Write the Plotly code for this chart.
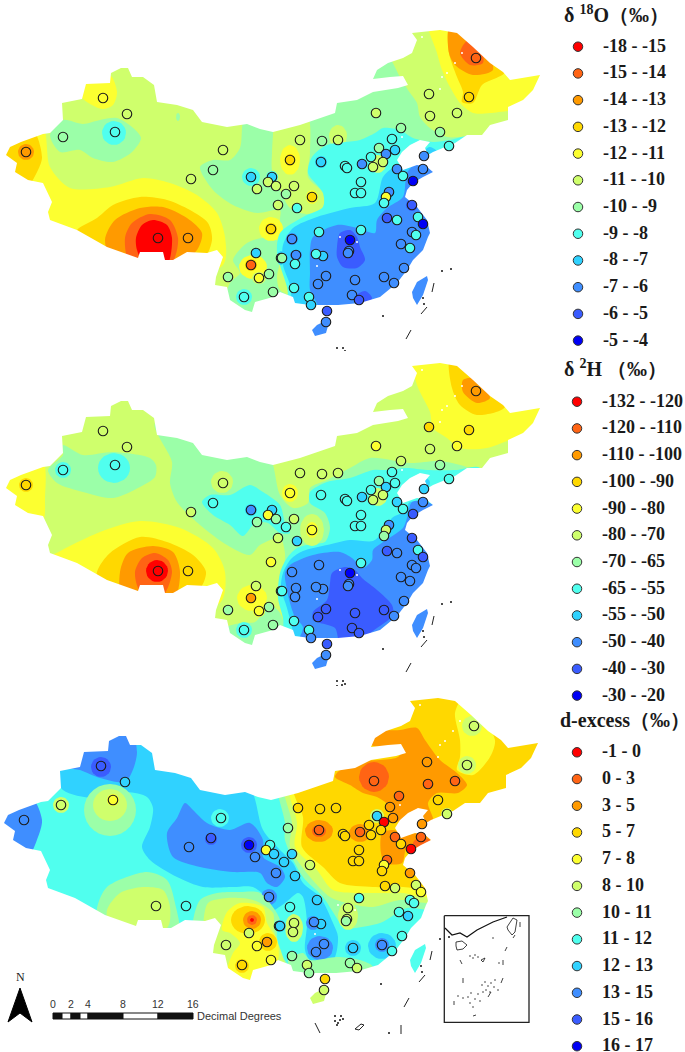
import math
import plotly.graph_objects as go

# ---------- class colours (12 legend classes, high to low) ----------
CLASS_COLORS = ["#FF0000", "#FF6414", "#FF9A00", "#FFD800", "#FCFF30", "#CFFF6C",
                "#9BFFA8", "#50FFEE", "#30D2FF", "#3F8EFF", "#3A5CFF", "#0000F5"]

O18_LABELS = ["-18 - -15", "-15 - -14", "-14 - -13", "-13 - -12", "-12 - -11", "-11 - -10",
              "-10 - -9", "-9 - -8", "-8 - -7", "-7 - -6", "-6 - -5", "-5 - -4"]
H2_LABELS = ["-132 - -120", "-120 - -110", "-110 - -100", "-100 - -90", "-90 - -80", "-80 - -70",
             "-70 - -65", "-65 - -55", "-55 - -50", "-50 - -40", "-40 - -30", "-30 - -20"]
DX_LABELS = ["-1 - 0", "0 - 3", "3 - 5", "5 - 7", "7 - 8", "8 - 10",
             "10 - 11", "11 - 12", "12 - 13", "13 - 15", "15 - 16", "16 - 17"]

# ---------- stations (map position, class in each panel) ----------
STATION_X = [26, 63, 103, 127, 115, 223, 213, 191, 158, 188, 251, 272, 268, 276, 257, 278, 271, 256, 251, 259, 269, 228, 244, 273, 281,
             476, 429, 469, 430, 457, 376, 401, 440, 449, 392, 379, 395, 386, 371, 383, 373, 300, 322, 338, 290, 321, 345, 347, 362, 424,
             423, 397, 403, 413, 361, 355, 361, 389, 386, 384, 412, 294, 286, 312, 297, 292, 319, 361, 387, 397, 418, 423, 412, 416, 401,
             410, 350, 349, 348, 323, 316, 296, 295, 282, 404, 294, 326, 318, 355, 384, 394, 352, 359, 309, 311, 327, 326]
STATION_Y = [152, 137, 98, 114, 132, 150, 170, 179, 238, 238, 177, 177, 182, 186, 189, 205, 229, 253, 265, 278, 274, 277, 297, 292, 258,
             58, 94, 97, 116, 113, 113, 128, 132, 146, 139, 148, 150, 154, 157, 162, 167, 140, 141, 140, 160, 162, 166, 168, 164, 156,
             169, 169, 176, 181, 182, 193, 193, 192, 197, 203, 205, 186, 194, 197, 208, 239, 232, 230, 218, 220, 217, 224, 232, 235, 244,
             248, 240, 251, 253, 256, 254, 255, 264, 258, 268, 288, 276, 284, 280, 277, 283, 295, 300, 297, 305, 311, 322]
O18_CLASS = [2, 6, 4, 5, 7, 5, 6, 5, 0, 2, 8, 8, 5, 5, 5, 5, 3, 8, 1, 4, 6, 6, 7, 6, 7,
             1, 5, 3, 5, 5, 5, 6, 6, 7, 7, 6, 8, 9, 7, 5, 5, 5, 6, 5, 3, 8, 7, 7, 9, 9,
             9, 9, 7, 11, 7, 7, 7, 9, 4, 7, 10, 5, 6, 3, 7, 9, 7, 7, 10, 7, 7, 11, 9, 7, 9,
             7, 11, 9, 9, 8, 7, 9, 7, 6, 9, 7, 9, 9, 9, 9, 9, 9, 10, 7, 8, 10, 9]
H2_CLASS = [3, 7, 5, 5, 7, 5, 7, 5, 0, 3, 9, 8, 4, 6, 6, 5, 4, 5, 2, 4, 6, 6, 7, 6, 7,
            2, 3, 3, 5, 4, 4, 5, 6, 7, 7, 6, 7, 8, 7, 5, 5, 5, 5, 5, 4, 7, 7, 7, 8, 8,
            9, 8, 7, 10, 7, 7, 7, 9, 5, 6, 10, 5, 7, 4, 8, 9, 9, 7, 10, 9, 7, 10, 9, 9, 9,
            9, 11, 9, 9, 9, 9, 9, 9, 7, 9, 7, 10, 10, 10, 10, 9, 10, 10, 7, 9, 10, 9]
DX_CLASS = [9, 5, 10, 8, 4, 7, 10, 9, 5, 7, 11, 7, 4, 8, 9, 9, 9, None, 5, 4, 2, 5, 3, 4, 7,
            5, 2, 5, 1, 1, 1, 1, 3, 5, 2, 8, 2, 0, 3, 3, 3, 3, 3, 3, 6, 1, 3, 3, 1, 2,
            1, 1, 3, 0, 3, 3, 3, 1, 4, 3, 2, 8, 8, 5, 8, 7, 8, 7, 3, 5, 5, 4, 7, 7, 7,
            8, 5, 5, 6, 8, 9, 5, 5, 8, 7, 6, 9, 9, 8, 9, 7, 6, 5, 5, 6, 3, 5]

# ---------- territory outline ----------
MAINLAND = [(6,155),(10,147),(21,142),(33,138),(43,134),(50,133),(63,120),(62,103),(82,99),(86,84),(110,83),(111,73),(121,68),
            (128,68),(132,77),(143,77),(154,85),(157,102),(177,105),(193,110),(202,122),(227,127),(247,124),(260,129),(273,132),
            (300,125),(335,113),(337,103),(357,100),(373,92),(398,88),(408,85),(403,76),(390,77),(373,79),(377,70),(388,63),
            (403,58),(412,53),(417,40),(412,33),(440,30),(457,33),(473,47),(490,63),(503,72),(510,80),(540,75),(533,90),(523,100),
            (508,107),(508,120),(490,125),(482,135),(467,135),(455,143),(433,152),(428,155),(425,148),(430,142),(420,140),(410,145),
            (402,152),(397,160),(403,170),(417,165),(427,167),(433,172),(423,177),(413,183),(407,190),(405,197),(417,207),(427,220),
            (430,233),(428,237),(423,250),(413,260),(407,270),(397,283),(380,297),(360,303),(338,305),(310,305),(295,303),(293,297),
            (280,292),(273,297),(255,302),(252,312),(245,310),(230,300),(227,287),(215,285),(216,277),(223,257),(217,250),(207,253),
            (187,252),(173,260),(165,260),(163,252),(140,252),(138,258),(107,247),(77,230),(50,220),(48,212),(52,202),(43,183),
            (28,180),(15,172),(17,163)]
TAIWAN = [(412,292),(417,282),(427,276),(428,280),(423,295),(417,305),(413,298)]
HAINAN = [(312,330),(317,325),(323,322),(328,326),(326,333),(315,336)]
OUTER_FRAME = [(-60,-60),(-60,520),(800,520),(800,-60)]
SPECKS_X = [422, 447, 455, 462, 442, 440, 402, 340, 357, 317]
SPECKS_Y = [37, 73, 63, 53, 77, 89, 137, 237, 242, 266]
ISLAND_STROKES = [[(434,283),(432,292)], [(427,307),(421,314)], [(411,330),(406,339)], [(317,355),(322,365)],
                  [(403,357),(403,366)], [(357,361),(363,356),(366,357),(361,362),(357,361)]]
ISLAND_DOTS_X = [383, 442, 451, 423, 424, 337, 343, 337, 340, 342, 345, 339, 391]
ISLAND_DOTS_Y = [316, 271, 269, 298, 304, 348, 348, 353, 355, 352, 351, 357, 365]

# ---------- contour regions: (class, polygon) or (class, (cx, cy, rx, ry)) ----------
O18_REGIONS = [
    (5, [(-20,-20),(700,-20),(700,400),(-20,400)]),
    (4, [(42,125),(50,167),(70,188),(110,187),(143,178),(170,183),(197,195),(217,213),(225,237),(223,265),(133,290),(20,240),(-10,170),(0,120)]),
    (3, [(33,130),(42,157),(38,170),(28,185),(8,180),(0,153),(7,130)]),
    (2, (26,152,8,8)),
    (3, [(77,230),(97,218),(113,205),(140,197),(167,200),(190,210),(208,223),(212,240),(200,265),(133,285),(70,250)]),
    (2, [(105,240),(115,220),(140,208),(163,207),(187,218),(202,233),(197,250),(170,270),(117,270)]),
    (1, [(125,238),(132,223),(150,214),(170,220),(178,238),(175,257),(160,280),(130,265)]),
    (0, [(136,238),(142,225),(153,220),(167,225),(172,238),(167,265),(147,268),(137,250)]),
    (6, [(50,135),(63,120),(83,124),(100,120),(117,118),(132,127),(141,138),(132,152),(113,162),(93,158),(80,150),(60,152)]),
    (7, (114,133,12,12)),
    (6, (178,117,2,4)),
    (4, [(86,75),(110,75),(117,92),(113,105),(102,109),(82,98),(78,85)]),
    (6, [(200,167),(213,160),(230,160),(240,148),(247,110),(380,50),(388,55),(400,77),(408,90),(417,103),(420,117),(430,128),(447,137),(473,137),(500,150),(440,270),(340,290),(283,250),(280,220),(280,210),(257,213),(233,205),(213,190)]),
    (5, [(273,135),(275,115),(307,115),(310,153),(308,177),(323,193),(323,207),(307,214),(290,208),(280,190),(272,170),(272,153)]),
    (5, (338,136,9,11)),
    (4, (290,160,10,15)),
    (3, (290,160,5,6)),
    (4, (312,197,6,7)),
    (6, [(247,243),(263,238),(280,242),(283,250),(280,263),(277,277),(280,290),(303,303),(250,325),(225,305),(230,283),(240,273),(233,260)]),
    (4, (253,267,14,12)),
    (3, (251,265,6,6)),
    (5, (259,278,7,6)),
    (4, (271,229,12,12)),
    (3, (271,229,6,6)),
    (7, (244,297,8,8)),
    (7, (251,177,9,9)),
    (7, (272,177,6,6)),
    (7, [(375,133),(383,128),(400,130),(413,138),(433,142),(450,140),(470,137),(480,180),(470,260),(393,320),(293,317),(287,287),(277,253),(280,233),(303,217),(323,207),(323,193),(308,173),(312,157),(327,145),(360,140)]),
    (8, (321,162,6,6)),
    (5, (378,164,8,9)),
    (5, (386,197,5,5)),
    (8, [(283,245),(293,228),(317,217),(350,208),(375,203),(383,177),(393,168),(407,168),(420,155),(430,147),(460,180),(470,300),(340,345),(295,345),(292,305),(290,285),(283,265)]),
    (8, (281,258,4,7)),
    (9, [(310,250),(313,237),(337,225),(357,228),(375,233),(377,220),(387,208),(403,197),(407,173),(417,163),(430,167),(470,200),(470,340),(400,350),(330,350),(300,350),(302,318),(318,308),(310,290),(310,273)]),
    (9, (296,255,6,5)),
    (9, (292,239,6,6)),
    (10, [(337,247),(340,233),(350,230),(357,237),(360,247),(365,260),(357,268),(343,267),(337,257)]),
    (10, [(355,297),(365,291),(372,298),(360,315)]),
    (10, (412,205,6,6)),
    (10, (387,218,5,5)),
    (4, [(428,20),(437,53),(442,70),(450,87),(460,103),(473,113),(490,113),(527,107),(570,90),(560,40),(493,15),(460,15)]),
    (3, [(450,25),(449,53),(457,77),(463,92),(462,102),(473,103),(482,85),(505,72),(490,45),(473,25)]),
    (2, [(450,25),(449,53),(455,65),(473,75),(493,70),(485,45),(470,25)]),
    (1, [(460,53),(470,65),(483,63),(480,45),(468,40)]),
]
H2_REGIONS = [
    (5, [(-20,-20),(700,-20),(700,400),(-20,400)]),
    (4, [(42,125),(45,165),(42,190),(0,195),(-10,160),(0,125)]),
    (3, (26,152,7,7)),
    (6, [(48,137),(63,122),(63,112),(83,122),(113,119),(150,125),(156,132),(155,144),(140,154),(113,165),(83,159),(57,150)]),
    (7, (114,135,16,15)),
    (7, (63,137,8,8)),
    (6, [(155,90),(260,100),(273,132),(280,162),(293,175),(308,170),(310,155),(327,147),(350,135),(370,125),(410,130),(440,128),(470,135),(500,150),(440,270),(300,300),(283,250),(285,220),(280,205),(260,212),(250,222),(227,212),(200,192),(177,169),(170,150),(172,129)]),
    (5, (222,149,11,11)),
    (4, (290,160,8,9)),
    (6, [(230,325),(222,297),(240,290),(255,289),(270,272),(280,280),(285,300),(270,325)]),
    (7, (244,297,8,8)),
    (7, [(202,169),(210,162),(230,162),(250,152),(263,159),(280,172),(285,190),(290,200),(280,200),(268,190),(255,190),(243,203),(230,192),(213,182)]),
    (8, (251,177,6,6)),
    (4, [(40,230),(100,199),(140,188),(180,195),(213,215),(225,239),(220,270),(100,275),(25,245)]),
    (3, [(97,239),(110,220),(140,204),(167,209),(193,222),(206,239),(197,260),(150,280),(100,268)]),
    (2, [(120,239),(128,220),(153,213),(173,219),(180,239),(173,268),(123,268)]),
    (1, [(135,239),(142,225),(155,220),(168,227),(172,239),(163,262),(140,258)]),
    (0, (157,238,11,11)),
    (4, (252,265,15,13)),
    (3, (251,265,5,5)),
    (4, (259,278,6,6)),
    (7, [(310,159),(327,149),(350,145),(373,137),(387,137),(407,135),(427,137),(457,137),(480,135),(500,200),(470,290),(300,320),(285,310),(283,285),(278,265),(280,240),(287,225),(297,215),(312,211),(325,209),(330,195),(325,180),(310,170)]),
    (5, (312,197,12,16)),
    (4, (312,197,6,8)),
    (5, (378,164,9,9)),
    (5, (386,197,5,5)),
    (8, [(283,240),(291,226),(303,218),(327,212),(350,207),(373,208),(383,199),(392,185),(405,178),(410,169),(432,172),(460,190),(470,320),(330,345),(295,345),(294,305),(287,275),(281,255)]),
    (8, (425,150,5,5)),
    (9, [(285,240),(290,232),(313,222),(340,219),(352,225),(363,235),(372,227),(373,217),(383,209),(403,195),(407,185),(412,169),(427,169),(470,200),(470,340),(330,350),(298,350),(298,310),(300,304),(303,294),(295,284),(290,270),(287,257)]),
    (10, [(330,250),(332,240),(345,234),(355,237),(362,245),(377,257),(392,272),(393,282),(377,295),(360,306),(340,309),(335,295),(313,287),(313,279),(327,267)]),
    (4, [(412,20),(417,52),(430,79),(433,95),(447,105),(460,115),(487,115),(523,102),(570,90),(560,40),(493,15),(440,15)]),
    (3, [(450,25),(452,55),(460,72),(477,82),(505,74),(490,45),(470,25)]),
    (2, [(463,47),(463,59),(477,70),(490,65),(477,45)]),
    (3, (469,97,5,5)),
]
DX_REGIONS = [
    (7, [(-20,-20),(700,-20),(700,400),(-20,400)]),
    (8, [(50,90),(65,122),(95,130),(129,124),(149,129),(155,140),(152,159),(144,179),(152,192),(179,209),(205,219),(235,219),(255,219),(270,232),(270,245),(287,235),(300,225),(305,229),(309,255),(307,282),(312,292),(335,292),(340,269),(335,255),(322,229),(305,215),(295,195),(282,182),(265,162),(250,115),(150,50)]),
    (9, [(82,102),(102,110),(127,114),(134,104),(139,84),(129,50),(75,60),(70,99)]),
    (10, (103,99,10,10)),
    (9, [(34,130),(44,152),(40,169),(29,190),(0,190),(-5,130)]),
    (6, (112,142,26,26)),
    (5, (112,137,17,16)),
    (4, (115,132,6,6)),
    (5, (63,137,8,8)),
    (7, (222,150,9,9)),
    (9, [(169,165),(179,150),(187,135),(195,142),(209,155),(232,162),(252,155),(265,172),(265,189),(282,199),(287,209),(279,219),(269,215),(262,205),(235,204),(202,199),(175,189)]),
    (9, (271,229,8,8)),
    (10, (213,171,6,6)),
    (10, (251,177,8,8)),
    (9, (315,255,7,7)),
    (9, (322,280,13,12)),
    (8, (355,280,8,8)),
    (8, (384,278,14,13)),
    (9, (384,277,7,7)),
    (6, [(99,240),(109,219),(149,204),(169,212),(177,235),(180,270),(100,270)]),
    (5, [(109,242),(122,225),(145,219),(165,222),(172,239),(169,260),(112,258)]),
    (6, [(194,262),(202,232),(219,225),(242,224),(262,225),(282,252),(279,262),(282,285),(292,302),(250,325),(200,290)]),
    (5, [(205,258),(210,235),(229,230),(255,232),(275,245),(276,262),(279,272),(285,289),(290,309),(250,325),(210,300),(205,285)]),
    (4, [(224,262),(229,244),(242,235),(265,239),(269,255),(279,272),(280,292),(269,302),(249,315),(230,302),(235,285),(242,275),(232,265)]),
    (3, (250,252,17,14)),
    (3, (270,274,9,9)),
    (3, (244,298,7,7)),
    (2, (254,252,9,9)),
    (1, (254,252,5,5)),
    (0, (254,252,2,2)),
    (2, (269,274,5,5)),
    (5, (296,260,9,14)),
    (8, (282,258,6,6)),
    (6, [(279,120),(287,155),(287,172),(305,209),(325,229),(342,255),(347,260),(382,255),(409,240),(430,242),(480,240),(560,200),(560,60),(280,60)]),
    (6, [(290,292),(305,285),(312,292),(339,289),(362,292),(375,299),(362,320),(305,320)]),
    (5, [(285,120),(294,155),(292,179),(312,209),(332,229),(349,235),(375,239),(402,232),(429,235),(480,235),(570,190),(570,40),(285,50)]),
    (5, (350,248,10,14)),
    (5, [(296,316),(338,316),(338,350),(296,350)]),
    (4, [(290,120),(299,155),(297,179),(319,202),(335,222),(375,225),(405,225),(425,229),(480,228),(580,180),(580,20),(290,30)]),
    (3, [(295,122),(305,149),(304,179),(325,199),(342,215),(375,219),(405,219),(430,222),(480,222),(590,170),(590,0),(295,10)]),
    (4, [(457,45),(462,72),(462,89),(459,102),(475,107),(492,89),(497,72),(478,40),(465,30)]),
    (5, (469,97,9,9)),
    (5, (474,58,10,10)),
    (2, [(374,77),(379,64),(402,62),(419,60),(427,72),(442,92),(459,105),(469,117),(460,125),(439,125),(430,135),(435,152),(425,162),(422,142),(395,155),(390,137),(379,129),(365,125),(352,117),(337,109),(342,102),(362,94),(400,89),(405,80)]),
    (1, (376,109,15,15)),
    (2, [(383,185),(387,195),(404,195),(409,179),(432,175),(432,162),(409,167),(395,162),(384,165)]),
    (1, [(417,172),(432,172),(425,185),(412,190)]),
    (2, (321,163,14,11)),
    (1, (321,163,7,6)),
    (2, (362,165,11,9)),
    (2, (412,205,5,5)),
    (5, (379,148,7,7)),
    (5, (449,146,6,6)),
]

# ---------- decorations ----------
LEGEND_X = [578, 577, 577]
LEGEND_Y_START = [46.7, 401.7, 752.3]
LEGEND_STEP = 26.72
LABEL_X = [601, 600, 600]
SCALE_TICKS = [0, 2, 4, 8, 12, 16]
SCALE_PIX = [53, 71, 88, 123, 158, 193]
SCALE_EDGES = [53, 62, 71, 80, 88, 123, 158, 193]
NORTH_ARROW = [(20,988),(8,1022),(20,1013),(32,1022),(20,988)]
INSET_BOX = [(444.3,915.7),(529,915.7),(529,1022.3),(444.3,1022.3),(444.3,915.7)]
INSET_LINES = [[(445,928),(452,935),(460,933),(467,937),(477,930),(493,922),(507,917)],
               [(456,942),(462,941),(467,945),(463,949),(457,950),(456,946),(456,942)],
               [(507,927),(513,918),(517,920),(515,932),(512,935),(508,930),(507,927)],
               [(520,922),(520,927)], [(515,935),(513,938)], [(507,947),(505,951)], [(460,960),(462,964)],
               [(503,960),(503,965)], [(463,978),(463,983)], [(503,978),(501,983)], [(488,997),(491,992)],
               [(454,1001),(454,1005)], [(473,1016),(476,1015)], [(481,960),(485,958),(483,962),(481,960)]]
INSET_DOTS_X = [493,473,470,473,475,478,499,482,485,488,491,494,486,490,495,483,498,478,471,468,463,475,480,470,458]
INSET_DOTS_Y = [938,1007,956,958,955,957,963,985,982,986,983,987,990,992,980,992,990,994,993,997,998,999,1001,1003,996]

W, H = 685, 1052
PANELS = [
    dict(x="x", y="y", top=0, bottom=351, dx=0, dy=0, regions=O18_REGIONS, cls=O18_CLASS),
    dict(x="x2", y="y2", top=351, bottom=686, dx=0, dy=333, regions=H2_REGIONS, cls=H2_CLASS),
    dict(x="x3", y="y3", top=686, bottom=1052, dx=-2, dy=668, regions=DX_REGIONS, cls=DX_CLASS),
]

def ellipse(cx, cy, rx, ry):
    return [(cx + rx * math.cos(2 * math.pi * i / 28), cy + ry * math.sin(2 * math.pi * i / 28)) for i in range(29)]

def path(rings):
    xs, ys = [], []
    for ring in rings:
        closed = list(ring) + [ring[0]]
        xs += [p[0] for p in closed] + [None]
        ys += [p[1] for p in closed] + [None]
    return xs[:-1], ys[:-1]

fig = go.Figure()
for p in PANELS:
    ax = dict(xaxis=p["x"], yaxis=p["y"])
    for cls, geom in p["regions"]:
        if isinstance(geom, tuple):
            xs, ys = path([ellipse(*geom)])
            shape = "linear"
        else:
            xs, ys = path([geom])
            shape = "spline"
        fig.add_trace(go.Scatter(x=xs, y=ys, mode="lines", fill="toself", fillcolor=CLASS_COLORS[cls],
                                 line=dict(width=0, shape=shape, smoothing=0.8), hoverinfo="skip", showlegend=False, **ax))
    xs, ys = path([OUTER_FRAME, MAINLAND, TAIWAN, HAINAN])
    fig.add_trace(go.Scatter(x=xs, y=ys, mode="lines", fill="toself", fillcolor="white",
                             line=dict(width=0), hoverinfo="skip", showlegend=False, **ax))
    fig.add_trace(go.Scatter(x=SPECKS_X, y=SPECKS_Y, mode="markers", marker=dict(size=2, color="white"),
                             hoverinfo="skip", showlegend=False, **ax))
    for stroke in ISLAND_STROKES:
        fig.add_trace(go.Scatter(x=[q[0] for q in stroke], y=[q[1] for q in stroke], mode="lines",
                                 line=dict(color="#222", width=1), hoverinfo="skip", showlegend=False, **ax))
    fig.add_trace(go.Scatter(x=ISLAND_DOTS_X, y=ISLAND_DOTS_Y, mode="markers", marker=dict(size=2, color="#111"),
                             hoverinfo="skip", showlegend=False, **ax))
    sx = [a for a, c in zip(STATION_X, p["cls"]) if c is not None]
    sy = [a for a, c in zip(STATION_Y, p["cls"]) if c is not None]
    sc = [CLASS_COLORS[c] for c in p["cls"] if c is not None]
    fig.add_trace(go.Scatter(x=sx, y=sy, mode="markers",
                             marker=dict(size=9.5, color=sc, line=dict(color="#1c1c1c", width=1.1)),
                             hoverinfo="skip", showlegend=False, **ax))

# overlay in page units: legends, scale bar, arrow, inset
pg = dict(xaxis="x4", yaxis="y4")
for lx, ly0 in zip(LEGEND_X, LEGEND_Y_START):
    fig.add_trace(go.Scatter(x=[lx] * 12, y=[ly0 + i * LEGEND_STEP for i in range(12)], mode="markers",
                             marker=dict(size=9.5, color=CLASS_COLORS, line=dict(color="#333", width=1)),
                             hoverinfo="skip", showlegend=False, **pg))
for i in range(7):
    fig.add_trace(go.Scatter(x=[SCALE_EDGES[i], SCALE_EDGES[i + 1], SCALE_EDGES[i + 1], SCALE_EDGES[i], SCALE_EDGES[i]],
                             y=[1013, 1013, 1019, 1019, 1013], mode="lines", fill="toself",
                             fillcolor="#111" if i % 2 == 0 else "white", line=dict(color="#111", width=1),
                             hoverinfo="skip", showlegend=False, **pg))
fig.add_trace(go.Scatter(x=[q[0] for q in NORTH_ARROW], y=[q[1] for q in NORTH_ARROW], mode="lines", fill="toself",
                         fillcolor="#000", line=dict(color="#000", width=1), hoverinfo="skip", showlegend=False, **pg))
fig.add_trace(go.Scatter(x=[q[0] for q in INSET_BOX], y=[q[1] for q in INSET_BOX], mode="lines",
                         line=dict(color="#222", width=1.3), hoverinfo="skip", showlegend=False, **pg))
for i, stroke in enumerate(INSET_LINES):
    fig.add_trace(go.Scatter(x=[q[0] for q in stroke], y=[q[1] for q in stroke], mode="lines",
                             line=dict(color="#111", width=1.2 if i == 0 else 0.8), hoverinfo="skip", showlegend=False, **pg))
fig.add_trace(go.Scatter(x=INSET_DOTS_X, y=INSET_DOTS_Y, mode="markers", marker=dict(size=1.5, color="#222"),
                         hoverinfo="skip", showlegend=False, **pg))

annotations = []
def note(text, x, y, size, family="Liberation Serif", bold=True, anchor="left", color="#1a1a1a"):
    t = f"<b>{text}</b>" if bold else text
    annotations.append(dict(text=t, x=x, y=y, xref="x4", yref="y4", showarrow=False, xanchor=anchor, yanchor="middle",
                            font=dict(family=family, size=size, color=color)))

note("δ <sup>18</sup>O（‰）", 562, 14, 20)
note("δ <sup>2</sup>H （‰）", 562, 368, 20)
note("d-excess（‰）", 558, 720, 20)
for labels, lx, ly0 in zip([O18_LABELS, H2_LABELS, DX_LABELS], LABEL_X, LEGEND_Y_START):
    for i, lab in enumerate(labels):
        note(lab, lx, ly0 + i * LEGEND_STEP - 1, 18)
for tick, px in zip(SCALE_TICKS, SCALE_PIX):
    note(str(tick), px, 1004, 10.5, family="Liberation Sans", bold=False, anchor="center", color="#333")
note("Decimal Degrees", 195, 1015.5, 11, family="Liberation Sans", bold=False, color="#333")
note("N", 20, 977, 12, family="Liberation Serif", bold=False, anchor="center", color="#222")

def hidden(**kw):
    return dict(visible=False, fixedrange=True, **kw)

layout = dict(width=W, height=H, margin=dict(l=0, r=0, t=0, b=0), paper_bgcolor="white", plot_bgcolor="rgba(0,0,0,0)",
              showlegend=False, annotations=annotations)
for i, p in enumerate(PANELS):
    s = "" if i == 0 else str(i + 1)
    layout["xaxis" + s] = hidden(domain=[0, 1], range=[0 - p["dx"], W - p["dx"]], anchor="y" + s)
    layout["yaxis" + s] = hidden(domain=[1 - p["bottom"] / H, 1 - p["top"] / H],
                                 range=[p["bottom"] - p["dy"], p["top"] - p["dy"]], anchor="x" + s)
layout["xaxis4"] = hidden(domain=[0, 1], range=[0, W], anchor="y4")
layout["yaxis4"] = hidden(domain=[0, 1], range=[H, 0], anchor="x4")
fig.update_layout(**layout)
fig.write_html("out.html", config={"displayModeBar": False},
               post_script="document.body.style.margin='0';document.body.style.overflow='hidden';")
